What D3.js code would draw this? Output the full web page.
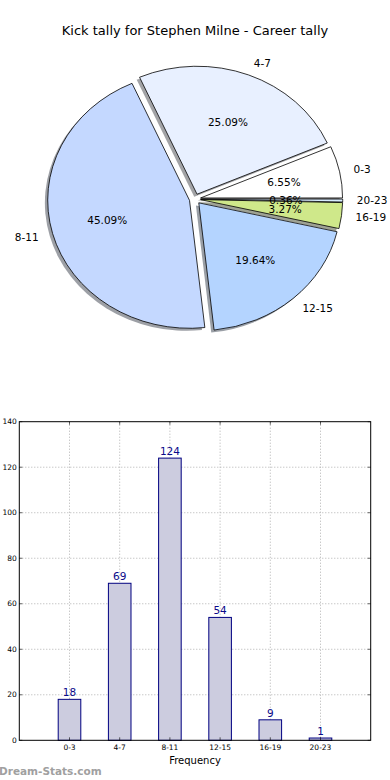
<!DOCTYPE html>
<html><head><meta charset="utf-8">
<script src="https://cdn.jsdelivr.net/npm/d3@7"></script>
<style>body{margin:0;background:#fff}svg{display:block}text{font-family:"DejaVu Sans",sans-serif}</style>
</head><body>
<svg id="c" width="390" height="780"></svg>
<script>
const title = "Kick tally for Stephen Milne - Career tally";
const categories = ["0-3","4-7","8-11","12-15","16-19","20-23"];
const counts = [18,69,124,54,9,1];
const sliceColors = ["#ffffff","#e8f0ff","#c4d8ff","#b4d4ff","#cfe88a","#d8ecff"];
const yTicks = [0,20,40,60,80,100,120,140];

const svg = d3.select("#c");
svg.append("text").attr("x",195).attr("y",35).attr("text-anchor","middle")
  .attr("font-size",13).text(title);

// ---- Pie (matplotlib style: start at east, counter-clockwise, elliptical) ----
const cx=195, cy=199, rx=142, ry=128, ex=0.04;
const total = d3.sum(counts);
const pie = d3.pie().sort(null).startAngle(0).endAngle(2*Math.PI)(counts);
const arcGen = d3.arc().innerRadius(0).outerRadius(1);
const slices = pie.map((p,i)=>{
  const t1=p.startAngle, t2=p.endAngle, tm=(t1+t2)/2;
  return {i, t1, t2, tm, dx: ex*Math.cos(tm), dy: -ex*Math.sin(tm)};
});
const pg = svg.append("g").attr("transform",`translate(${cx},${cy}) scale(${rx},${ry})`);
const pathOf = s => arcGen({startAngle: Math.PI/2 - s.t2, endAngle: Math.PI/2 - s.t1});
pg.selectAll("path.sh").data(slices).join("path").attr("class","sh")
  .attr("d",pathOf)
  .attr("transform",s=>`translate(${s.dx-0.02},${s.dy+0.02})`)
  .attr("fill",s=>{const c=d3.rgb(sliceColors[s.i]);return d3.rgb(c.r*0.3,c.g*0.3,c.b*0.3);})
  .attr("fill-opacity",0.5).attr("stroke","none");
pg.selectAll("path.w").data(slices).join("path").attr("class","w")
  .attr("d",pathOf)
  .attr("transform",s=>`translate(${s.dx},${s.dy})`)
  .attr("fill",s=>sliceColors[s.i])
  .attr("stroke","#000").attr("stroke-width",0.8).attr("vector-effect","non-scaling-stroke")
  .attr("stroke-linejoin","round");
slices.forEach(s=>{
  const ox = cx + s.dx*rx, oy = cy + s.dy*ry;
  const c = Math.cos(s.tm), sn = Math.sin(s.tm);
  const lx = ox + 1.1*rx*c, ly = oy - 1.1*ry*sn;
  svg.append("text").attr("x",lx).attr("y",ly).attr("dy","0.35em")
    .attr("text-anchor", c>0 ? "start":"end").attr("font-size",10.5)
    .text(categories[s.i]);
  const px = ox + 0.6*rx*c, py = oy - 0.6*ry*sn;
  svg.append("text").attr("x",px).attr("y",py).attr("dy","0.35em")
    .attr("text-anchor","middle").attr("font-size",10.5)
    .text((counts[s.i]/total*100).toFixed(2)+"%");
});

// ---- Bar chart ----
const L=19.3, R=370.7, T=421.7, B=740.3;
const x = d3.scaleLinear().domain([-1,6]).range([L,R]);
const y = d3.scaleLinear().domain([0,140]).range([B,T]);
const bw = 0.45;
const bg = svg.append("g");
bg.selectAll("line.gy").data(yTicks.slice(1,-1)).join("line")
  .attr("x1",L).attr("x2",R).attr("y1",d=>y(d)).attr("y2",d=>y(d))
  .attr("stroke","#b0b0b0").attr("stroke-width",1).attr("stroke-dasharray","1,2");
bg.selectAll("line.gx").data(categories).join("line")
  .attr("x1",(d,i)=>x(i)).attr("x2",(d,i)=>x(i)).attr("y1",T).attr("y2",B)
  .attr("stroke","#b0b0b0").attr("stroke-width",1).attr("stroke-dasharray","1,2");
bg.selectAll("rect").data(counts).join("rect")
  .attr("x",(d,i)=>x(i-bw/2)).attr("width",x(bw)-x(0))
  .attr("y",d=>y(d)).attr("height",d=>B-y(d))
  .attr("fill","#ccccdf").attr("stroke","#000080").attr("stroke-width",1);
bg.selectAll("text.v").data(counts).join("text").attr("class","v")
  .attr("x",(d,i)=>x(i)).attr("y",d=>y(d)-3).attr("text-anchor","middle")
  .attr("font-size",10.5).attr("fill","#0a0a8a").text(d=>d);
bg.append("rect").attr("x",L).attr("y",T).attr("width",R-L).attr("height",B-T)
  .attr("fill","none").attr("stroke","#000").attr("stroke-width",1);
categories.forEach((c,i)=>{
  bg.append("line").attr("x1",x(i)).attr("x2",x(i)).attr("y1",B).attr("y2",B-3).attr("stroke","#000").attr("stroke-width",0.6);
  bg.append("line").attr("x1",x(i)).attr("x2",x(i)).attr("y1",T).attr("y2",T+3).attr("stroke","#000").attr("stroke-width",0.6);
});
yTicks.forEach(t=>{
  bg.append("line").attr("x1",L).attr("x2",L+3).attr("y1",y(t)).attr("y2",y(t)).attr("stroke","#000").attr("stroke-width",0.6);
  bg.append("line").attr("x1",R).attr("x2",R-3).attr("y1",y(t)).attr("y2",y(t)).attr("stroke","#000").attr("stroke-width",0.6);
});
bg.selectAll("text.yt").data(yTicks).join("text").attr("class","yt")
  .attr("x",L-2.5).attr("y",d=>y(d)).attr("dy","0.35em").attr("text-anchor","end")
  .attr("font-size",7.5).text(d=>d);
bg.selectAll("text.xt").data(categories).join("text").attr("class","xt")
  .attr("x",(d,i)=>x(i)).attr("y",B+10).attr("text-anchor","middle")
  .attr("font-size",7.5).text(d=>d);
svg.append("text").attr("x",195).attr("y",764).attr("text-anchor","middle")
  .attr("font-size",10).text("Frequency");
svg.append("text").attr("x",-1).attr("y",775).attr("font-size",10.5).attr("font-weight","bold")
  .attr("fill","#a0a0a0").text("Dream-Stats.com");
</script>
</body></html>
